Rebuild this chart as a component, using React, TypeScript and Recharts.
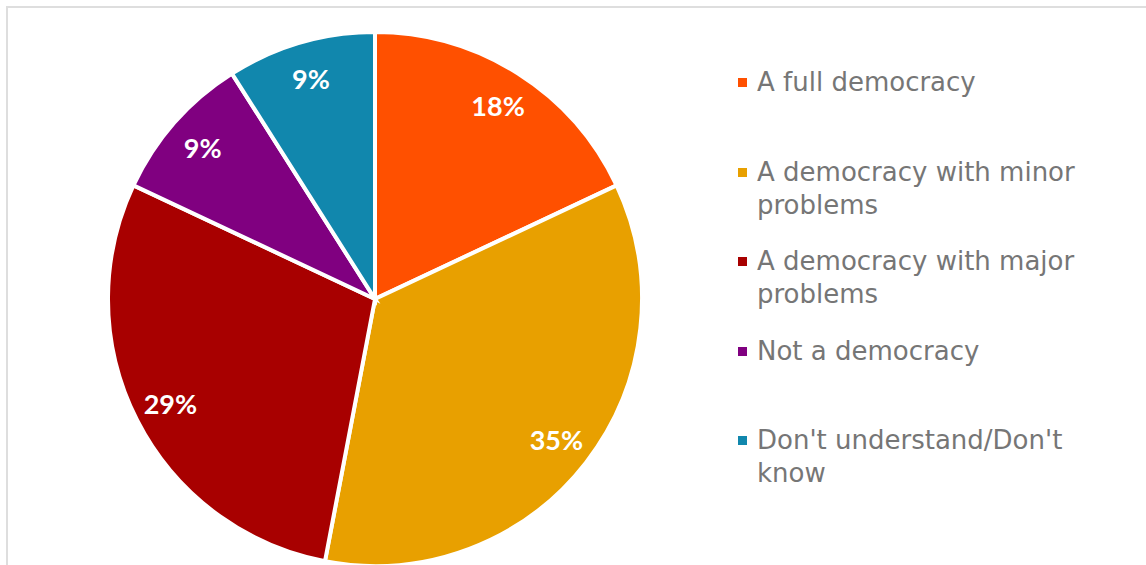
import React from 'react';
import { Cell, Legend, Pie, PieChart } from 'recharts';

const categories = [
  'A full democracy',
  'A democracy with minor problems',
  'A democracy with major problems',
  'Not a democracy',
  "Don't understand/Don't know",
];
const shares = [18, 35, 29, 9, 9];
const colors = ['#FF5000', '#E8A000', '#A80000', '#800080', '#1187AD'];

const data = categories.map((name, i) => ({ name, value: shares[i] }));

const RAD = Math.PI / 180;

function renderLabel(props: any) {
  const { cx, cy, midAngle, outerRadius, value } = props;
  const r = outerRadius * 0.86;
  const x = cx + r * Math.cos(-midAngle * RAD);
  const y = cy + r * Math.sin(-midAngle * RAD);
  return (
    <text
      x={x}
      y={y}
      fill="#fff"
      textAnchor="middle"
      dominantBaseline="central"
      fontFamily="Lato, sans-serif"
      fontWeight={700}
      fontSize={27}
    >
      {value}%
    </text>
  );
}

// legend keeps the data order (recharts would sort it otherwise)
function renderLegend() {
  return (
    <div style={{ fontFamily: '"DejaVu Sans", sans-serif', fontSize: 26, color: '#767676' }}>
      {categories.map((name, i) => (
        <div key={name} style={{ height: 89.6, display: 'flex', alignItems: 'flex-start' }}>
          <div
            style={{
              width: 9,
              height: 9,
              background: colors[i],
              marginTop: 12,
              marginRight: 10,
              flexShrink: 0,
            }}
          />
          <div style={{ lineHeight: '33px', width: 360 }}>{name}</div>
        </div>
      ))}
    </div>
  );
}

export default function App() {
  return (
    <div
      style={{
        position: 'absolute',
        left: 0,
        top: 0,
        width: 1146,
        height: 565,
        overflow: 'hidden',
        background: '#fff',
      }}
    >
      <div
        style={{
          position: 'absolute',
          left: 6,
          top: 6,
          width: 1200,
          height: 620,
          border: '2px solid #dedede',
        }}
      />
      <div style={{ position: 'absolute', left: 0, top: 0 }}>
        <PieChart width={1146} height={565}>
          <Pie
            data={data}
            dataKey="value"
            nameKey="name"
            cx={370}
            cy={294}
            outerRadius={267}
            startAngle={90}
            endAngle={-270}
            stroke="#fff"
            strokeWidth={4}
            label={renderLabel}
            labelLine={false}
            isAnimationActive={false}
          >
            {data.map((d, i) => (
              <Cell key={d.name} fill={colors[i]} />
            ))}
          </Pie>
          <Legend
            content={renderLegend}
            wrapperStyle={{ position: 'absolute', left: 738, top: 66, width: 400 }}
          />
        </PieChart>
      </div>
    </div>
  );
}
